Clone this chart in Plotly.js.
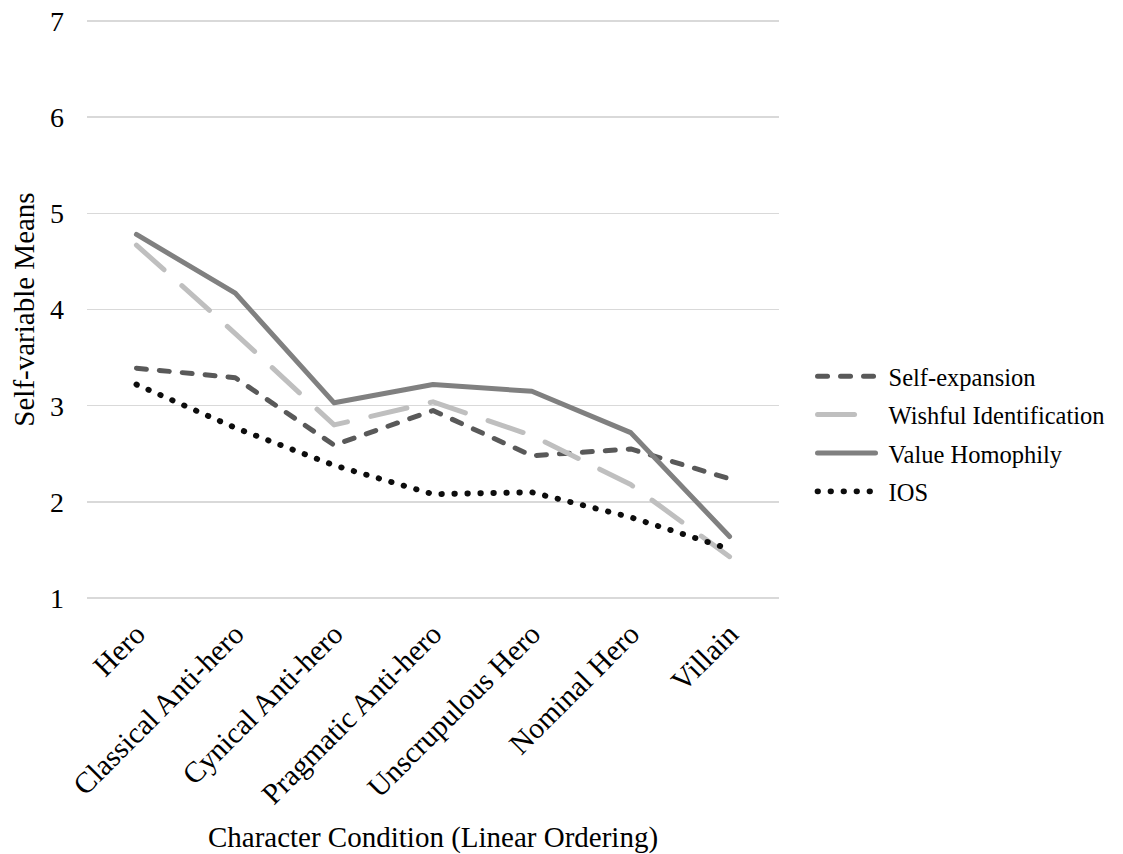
<!DOCTYPE html>
<html>
<head>
<meta charset="utf-8">
<script src="https://cdn.plot.ly/plotly-3.0.1.min.js"></script>
<style>
html,body{margin:0;padding:0;background:#fff;}
#chart{width:1123px;height:854px;}
.scatterlayer path.js-line, .legendlines path{stroke-linecap:round;stroke-linejoin:round;}
</style>
</head>
<body>
<div id="chart"></div>
<script>
const categories = ["Hero", "Classical Anti-hero", "Cynical Anti-hero", "Pragmatic Anti-hero", "Unscrupulous Hero", "Nominal Hero", "Villain"];
const selfExpansion = [3.39, 3.29, 2.59, 2.95, 2.48, 2.55, 2.24];
const wishfulIdentification = [4.67, 3.75, 2.80, 3.04, 2.69, 2.18, 1.43];
const valueHomophily = [4.78, 4.17, 3.03, 3.22, 3.15, 2.72, 1.64];
const ios = [3.22, 2.77, 2.38, 2.08, 2.10, 1.84, 1.51];
const yTicks = [1, 2, 3, 4, 5, 6, 7];

const FONT = "Liberation Serif, Times New Roman, serif";

const traces = [
  {name: "Self-expansion", y: selfExpansion, color: "#595959", dash: "10px,13px", w: 5, lg: "a"},
  {name: "Wishful Identification", y: wishfulIdentification, color: "#bfbfbf", dash: "37px,24px", w: 5, lg: "b"},
  {name: "Value Homophily", y: valueHomophily, color: "#808080", dash: "solid", w: 5, lg: "c"},
  {name: "IOS", y: ios, color: "#0d0d0d", dash: "0.5px,12.5px", w: 5.8, lg: "d"}
].map(s => ({
  type: "scatter", mode: "lines", name: s.name, x: categories, y: s.y,
  legendgroup: s.lg,
  line: {color: s.color, width: s.w, dash: s.dash},
  hoverinfo: "skip"
}));

const layout = {
  width: 1123, height: 854,
  margin: {l: 87, r: 340, t: 19, b: 254},
  paper_bgcolor: "#fff", plot_bgcolor: "#fff",
  font: {family: FONT, color: "#000", size: 28},
  showlegend: true,
  legend: {
    x: 1.047, xanchor: "left", y: 0.286, yanchor: "middle",
    font: {family: FONT, size: 24.5, color: "#000"},
    itemwidth: 67,
    tracegroupgap: 3.5, bgcolor: "rgba(0,0,0,0)"
  },
  xaxis: {
    type: "category", range: [-0.5, 6.5], tickangle: -45, showgrid: false, zeroline: false,
    showline: false, ticks: "", ticklabelstandoff: 10,
    tickfont: {family: FONT, size: 29.5, color: "#000"},
    title: {text: "Character Condition (Linear Ordering)", font: {family: FONT, size: 29, color: "#000"}, standoff: 22},
    automargin: false
  },
  yaxis: {
    range: [0.98, 7.02], tickvals: yTicks, ticktext: yTicks.map(String),
    showgrid: true, gridcolor: "#d9d9d9", gridwidth: 1.5, zeroline: false,
    showline: false, ticks: "", ticklabelstandoff: 22,
    tickfont: {family: FONT, size: 28, color: "#000"},
    title: {text: "Self-variable Means", font: {family: FONT, size: 29, color: "#000"}, standoff: 6},
    automargin: false
  }
};

Plotly.newPlot("chart", traces, layout, {displayModeBar: false, staticPlot: true}).then(() => {
  // lengthen the legend line samples to match the reference's wider swatches
  document.querySelectorAll("#chart .legendlines path").forEach(p => p.setAttribute("d", "M6,0h58"));
});
</script>
</body>
</html>
